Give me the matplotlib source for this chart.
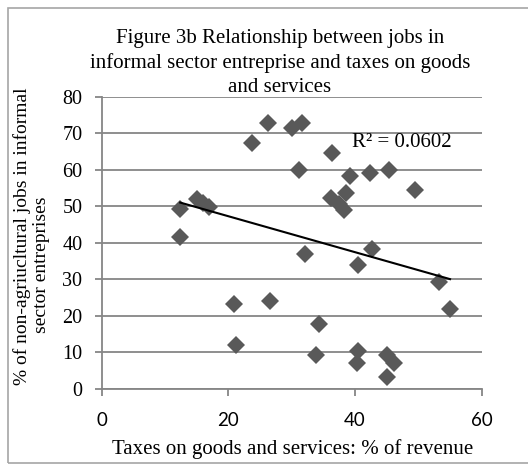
import numpy as np
import matplotlib
matplotlib.use("Agg")
import matplotlib.pyplot as plt
from matplotlib.patches import Rectangle

# Taxes on goods and services (% of revenue) vs. share of non-agricultural
# jobs in informal sector entreprises
taxes_pct = [12.4, 12.4, 15.1, 16.0, 17.0, 20.9, 21.2, 23.7, 26.2, 26.5,
             30.0, 31.2, 31.7, 32.1, 33.8, 34.3, 36.2, 36.4, 37.4, 38.2,
             38.5, 39.2, 40.3, 40.4, 40.5, 42.3, 42.7, 45.0, 45.0, 45.4,
             46.1, 49.4, 53.2, 55.0]
informal_jobs_pct = [41.5, 49.3, 52.0, 51.0, 49.7, 23.1, 11.9, 67.5, 72.8, 24.1,
                     71.4, 60.1, 72.9, 36.9, 9.2, 17.6, 52.2, 64.7, 50.6, 49.0,
                     53.6, 58.4, 7.1, 33.9, 10.3, 59.2, 38.2, 9.2, 3.1, 59.9,
                     6.9, 54.5, 29.3, 21.7]
r_squared_label = "R² = 0.0602"

x_ticks = [0, 20, 40, 60]
y_ticks = [0, 10, 20, 30, 40, 50, 60, 70, 80]

title_lines = ["Figure 3b Relationship between jobs in",
               "informal sector entreprise and taxes on goods",
               "and services"]
x_label = "Taxes on goods and services: % of revenue"
y_label_lines = ["% of non-agriucltural jobs in informal", "sector entreprises"]

W, H = 528, 466
fig = plt.figure(figsize=(W / 100, H / 100), dpi=100)
serif = "Liberation Serif"
grid_c = "#868686"

def fx(px):
    return px / W

def fy(py):
    return 1 - py / H

# chart-area border
fig.patches.append(Rectangle((fx(8), fy(463)), fx(600), fy(8) - fy(463),
                             transform=fig.transFigure, fill=False,
                             edgecolor="#a6a6a6", linewidth=1.2))

ax = fig.add_axes([fx(101.7), fy(388.5), fx(481.7) - fx(101.7), fy(97) - fy(388.5)])
ax.set_xlim(0, 60)
ax.set_ylim(0, 80)
ax.set_xticks(x_ticks)
ax.set_yticks(y_ticks)
ax.yaxis.grid(True, color=grid_c, linewidth=1.3)
ax.set_axisbelow(True)
for s in ("top", "right"):
    ax.spines[s].set_visible(False)
for s in ("left", "bottom"):
    ax.spines[s].set_color(grid_c)
    ax.spines[s].set_linewidth(1.3)
ax.tick_params(axis="both", direction="out", length=5, width=1.3, color=grid_c)
ax.tick_params(axis="y", pad=9)
ax.tick_params(axis="x", pad=12)
for lab in ax.get_yticklabels():
    lab.set_fontfamily(serif)
    lab.set_fontsize(14.5)
for lab in ax.get_xticklabels():
    lab.set_fontfamily("Lato")
    lab.set_fontsize(13.5)

ax.plot(taxes_pct, informal_jobs_pct, linestyle="none", marker="D",
        markersize=9.5, color="#595959", markeredgewidth=0, zorder=3)

# linear trend line
coef = np.polyfit(taxes_pct, informal_jobs_pct, 1)
xs = np.array([min(taxes_pct), max(taxes_pct)])
ax.plot(xs, np.polyval(coef, xs), color="black", linewidth=1.5, zorder=4)

ax.text(0.658, 0.845, r_squared_label, transform=ax.transAxes,
        fontfamily=serif, fontsize=15, va="center", ha="left")

for txt, base in zip(title_lines, [43, 68, 92]):
    fig.text(fx(280), fy(base), txt, fontfamily=serif, fontsize=15,
             ha="center", va="baseline")

fig.text(fx(293), fy(449), x_label, fontfamily=serif, fontsize=15,
         ha="center", va="center")
fig.text(fx(22), fy(236), y_label_lines[0], fontfamily=serif, fontsize=14,
         ha="center", va="center", rotation=90)
fig.text(fx(42), fy(265), y_label_lines[1], fontfamily=serif, fontsize=14,
         ha="center", va="center", rotation=90)

fig.savefig("out.png", dpi=100)
